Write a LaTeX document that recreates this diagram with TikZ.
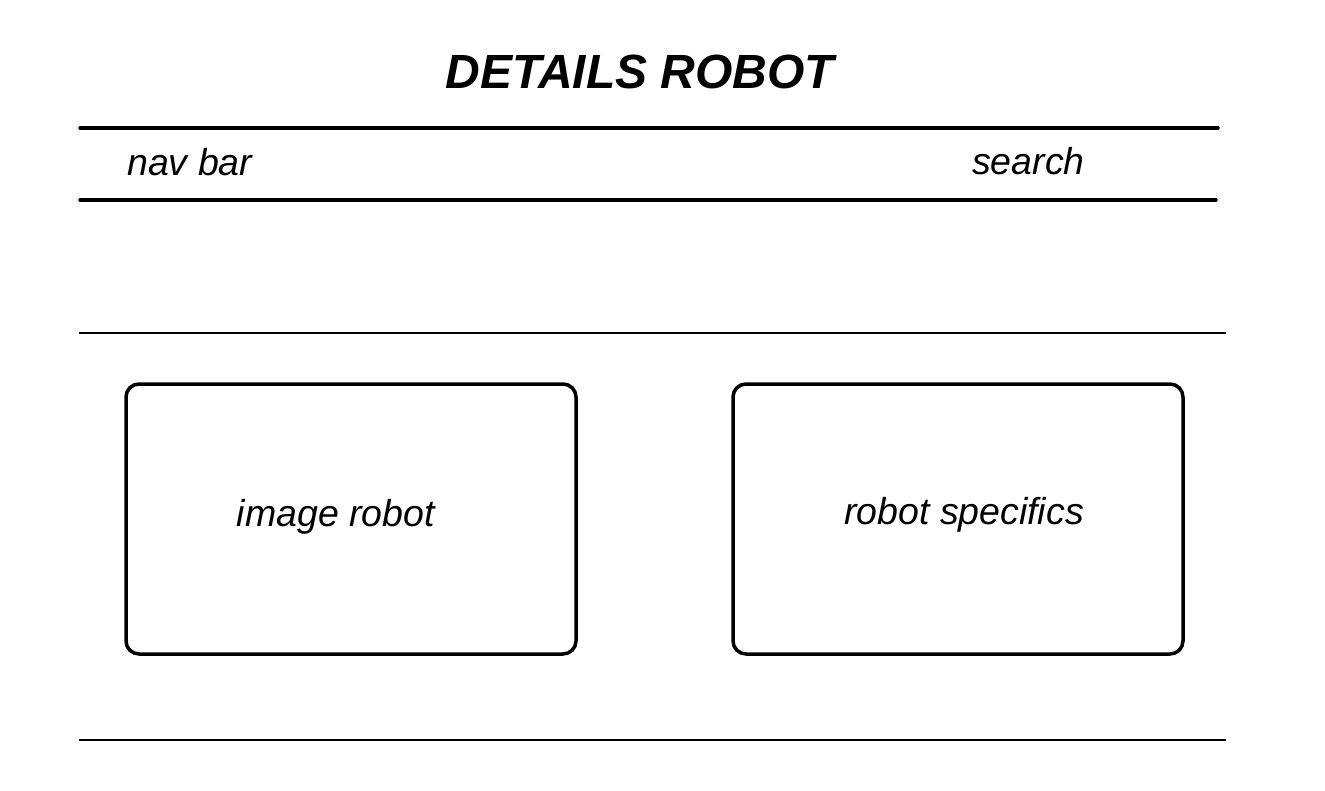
\documentclass[tikz,border=0pt]{standalone}
\usepackage{fontspec}
\setmainfont{Liberation Sans}
\begin{document}
\begin{tikzpicture}[x=1pt,y=-1pt,
  thickrule/.style={line width=3.5pt, line cap=round},
  thinrule/.style={line width=2.5pt},
  panel/.style={draw, line width=3.5pt, rounded corners=13pt},
  label/.style={font=\fontsize{37.5}{40}\selectfont\itshape, inner sep=0pt},
  titletext/.style={font=\fontsize{48}{52}\selectfont\bfseries\itshape, inner sep=0pt}]
\useasboundingbox (0,0) rectangle (1325,790);
\node[titletext, anchor=base] (title) at (640,88) {DETAILS ROBOT};
\coordinate (r1a) at (80,128); \coordinate (r1b) at (1218,128);
\coordinate (r2a) at (80,200); \coordinate (r2b) at (1216,200);
\coordinate (r3a) at (79,333); \coordinate (r3b) at (1226,333);
\coordinate (r4a) at (79,740); \coordinate (r4b) at (1226,740);
\draw[thickrule] (r1a) -- (r1b);
\draw[thickrule] (r2a) -- (r2b);
\draw[thinrule] (r3a) -- (r3b);
\draw[thinrule] (r4a) -- (r4b);
\node[label, anchor=base west] (nav) at (127,175) {nav bar};
\node[label, anchor=base west] (search) at (972,174) {search};
\draw[panel] (126,384) rectangle (576,654);
\draw[panel] (733,384) rectangle (1183,654);
\node[label, anchor=base] (img) at (336,526) {image robot};
\node[label, anchor=base] (spec) at (964,524) {robot specifics};
\end{tikzpicture}
\end{document}
